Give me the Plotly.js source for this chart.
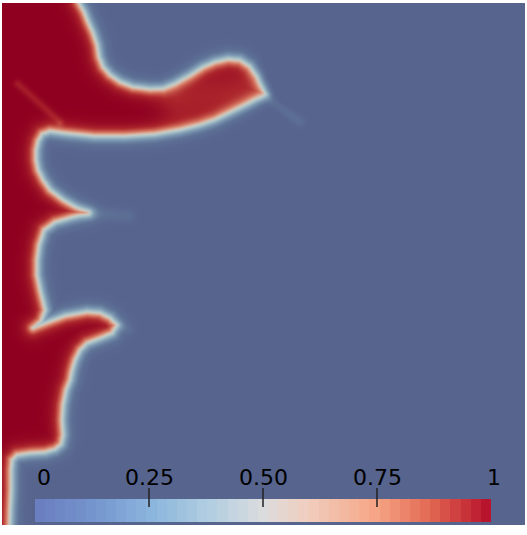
<!DOCTYPE html>
<html><head><meta charset="utf-8">
<script src="https://cdn.plot.ly/plotly-3.0.1.min.js"></script>
<style>html,body{margin:0;padding:0;background:#fff}</style>
</head><body><div id="plot" style="width:527px;height:535px"></div>
<script>
// Outline (0.5 contour) of the red phase, in image pixel units
const bodyX = [-20, 79, 79, 84, 88, 93, 97, 99, 103, 110, 120, 133, 150, 163, 175, 190, 203, 215, 228, 240, 250, 258, 264, 266, 259, 245, 230, 215, 200, 180, 155, 125, 95, 65, 50, 42, 38, 36, 36, 38, 43, 50, 63, 75, 88, 72, 55, 44, 39, 37, 37, 40, 43, 45, 41, 33, 46, 65, 87, 100, 110, 116, 112, 100, 87, 80, 75, 72, 70, 66, 63, 62, 63, 61, 55, 45, 30, 17, 12, 11, 11, 10, 9, -20];
const bodyY = [-20, -20, 3, 12, 22, 33, 45, 57, 67, 75, 82, 87, 89, 88, 83, 75, 67, 62, 59, 60, 66, 76, 88, 94, 99, 106, 113, 120, 125, 130, 134, 136, 136, 133, 131, 134, 141, 150, 160, 170, 180, 190, 200, 207, 213, 217, 222, 230, 245, 260, 275, 290, 302, 310, 321, 328, 323, 316, 312, 313, 318, 325, 333, 338, 343, 350, 360, 370, 380, 390, 405, 420, 435, 444, 449, 452, 453, 455, 460, 470, 490, 510, 545, 545];

// Faint streaks (segments) added to the field
const wispX0 = [18, 264, 88, 180, 116];
const wispY0 = [84, 96, 213, 102, 325];
const wispX1 = [60, 300, 128, 262, 130];
const wispY1 = [122, 122, 216, 86, 330];
const wispAmp = [-0.1, 0.08, 0.08, -0.12, 0.05];
const wispWidth = [4, 5, 7, 22, 5];

const barTicks = [0, 0.25, 0.5, 0.75, 1];
const barLabels = ['0', '0.25', '0.50', '0.75', '1'];
const barBands = 45;

const fieldColors = [
  [0, 'rgb(87,100,142)'], [0.1, 'rgb(94,113,150)'], [0.25, 'rgb(122,150,176)'],
  [0.4, 'rgb(165,190,198)'], [0.5, 'rgb(198,202,196)'], [0.6, 'rgb(220,172,152)'],
  [0.72, 'rgb(208,108,88)'], [0.86, 'rgb(172,38,44)'], [1, 'rgb(143,0,32)']
];
const barColors = [
  [0, 'rgb(106,126,192)'], [0.125, 'rgb(117,150,206)'], [0.25, 'rgb(139,181,221)'],
  [0.375, 'rgb(176,205,225)'], [0.5, 'rgb(219,220,222)'], [0.6, 'rgb(240,206,190)'],
  [0.75, 'rgb(246,166,135)'], [0.875, 'rgb(226,104,82)'], [1, 'rgb(185,20,45)']
];

function segDist(px, py, ax, ay, bx, by) {
  const dx = bx - ax, dy = by - ay;
  const l2 = dx * dx + dy * dy;
  let t = l2 > 0 ? ((px - ax) * dx + (py - ay) * dy) / l2 : 0;
  t = Math.max(0, Math.min(1, t));
  const qx = ax + t * dx - px, qy = ay + t * dy - py;
  return Math.sqrt(qx * qx + qy * qy);
}

const xs = [], ys = [];
for (let i = 0; i < 523; i++) xs.push(2.5 + i);
for (let j = 0; j < 522; j++) ys.push(3.5 + j);
const n = bodyX.length;
const w = 4.2;
const z = [];
for (let j = 0; j < ys.length; j++) {
  const py = ys[j];
  const row = new Array(xs.length);
  for (let i = 0; i < xs.length; i++) {
    const px = xs[i];
    let inside = false, dmin = 1e9;
    for (let k = 0, m = n - 1; k < n; m = k++) {
      const xk = bodyX[k], yk = bodyY[k], xm = bodyX[m], ym = bodyY[m];
      if (((yk > py) !== (ym > py)) && (px < (xm - xk) * (py - yk) / (ym - yk) + xk)) inside = !inside;
      const d = segDist(px, py, xk, yk, xm, ym);
      if (d < dmin) dmin = d;
    }
    const sd = inside ? dmin : -dmin;
    let v = 1 / (1 + Math.exp(-sd / w));
    for (let s = 0; s < wispAmp.length; s++) {
      const d = segDist(px, py, wispX0[s], wispY0[s], wispX1[s], wispY1[s]);
      v += wispAmp[s] * Math.exp(-(d / wispWidth[s]) * (d / wispWidth[s]));
    }
    row[i] = Math.max(0, Math.min(1, v));
  }
  z.push(row);
}

const bx = [], bz = [];
for (let i = 0; i < barBands; i++) { bx.push((i + 0.5) / barBands); bz.push(i / (barBands - 1)); }

const H = 522, B = 525;
const py2paper = p => (B - p) / H;

const annotations = barTicks.map((t, i) => ({
  x: t, xref: 'x2', y: py2paper(477), yref: 'paper',
  text: barLabels[i], showarrow: false,
  xanchor: i === 0 ? 'left' : 'center', yanchor: 'middle',
  xshift: i === barTicks.length - 1 ? 3 : 0,
  font: {family: 'DejaVu Sans', size: 22, color: '#000'}
}));
const shapes = barTicks.slice(1, -1).map(t => ({
  type: 'line', xref: 'x2', yref: 'paper', x0: t, x1: t,
  y0: py2paper(507), y1: py2paper(488), line: {color: '#222', width: 1.5}
}));

const data = [
  {type: 'heatmap', x: xs, y: ys, z: z, colorscale: fieldColors, zmin: 0, zmax: 1,
   showscale: false, hoverinfo: 'skip', xaxis: 'x', yaxis: 'y'},
  {type: 'heatmap', x: bx, y: [0.5], z: [bz], colorscale: barColors, zmin: 0, zmax: 1,
   showscale: false, hoverinfo: 'skip', xaxis: 'x2', yaxis: 'y2'}
];
const layout = {
  width: 527, height: 535, autosize: false,
  margin: {l: 2, r: 2, t: 3, b: 10, pad: 0},
  paper_bgcolor: '#fff', plot_bgcolor: 'rgb(87,100,142)',
  showlegend: false,
  xaxis: {range: [2, 525], visible: false, fixedrange: true, domain: [0, 1]},
  yaxis: {range: [525, 3], visible: false, fixedrange: true, domain: [0, 1]},
  xaxis2: {range: [0, 1], visible: false, fixedrange: true, anchor: 'y2',
           domain: [(35 - 2) / 523, (491 - 2) / 523]},
  yaxis2: {range: [0, 1], visible: false, fixedrange: true, anchor: 'x2',
           domain: [py2paper(522), py2paper(499)]},
  annotations: annotations, shapes: shapes
};
Plotly.newPlot('plot', data, layout, {staticPlot: true, displayModeBar: false});
</script></body></html>
